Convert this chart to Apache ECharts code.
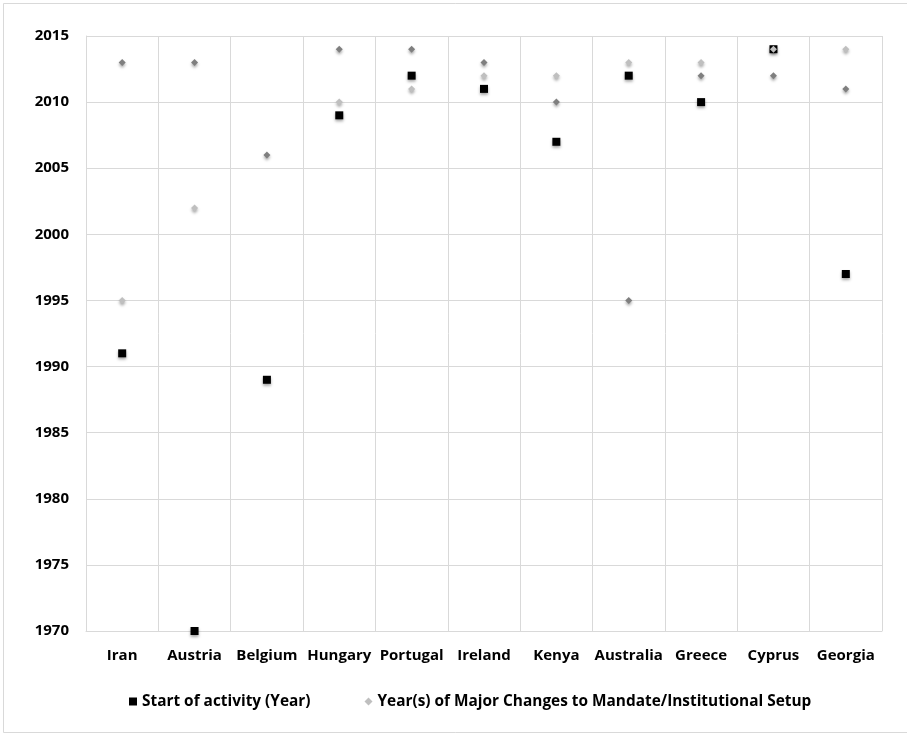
<!DOCTYPE html>
<html>
<head>
<meta charset="utf-8">
<script src="https://cdn.jsdelivr.net/npm/echarts@6/dist/echarts.min.js"></script>
<style>
  html, body { margin: 0; padding: 0; background: #fff; }
  #chart { width: 907px; height: 735px; }
</style>
</head>
<body>
<div id="chart"></div>
<script>
// Countries along the horizontal axis
const countries = ['Iran', 'Austria', 'Belgium', 'Hungary', 'Portugal', 'Ireland', 'Kenya', 'Australia', 'Greece', 'Cyprus', 'Georgia'];

// Year each institution started its activity
const startYear = [1991, 1970, 1989, 2009, 2012, 2011, 2007, 2012, 2010, 2014, 1997];

// Years of major changes to mandate / institutional setup (two per country at most)
const changeYearA = [1995, 2002, null, 2010, 2011, 2012, 2012, 2013, 2013, 2014, 2014];
const changeYearB = [2013, 2013, 2006, 2014, 2014, 2013, 2010, 1995, 2012, 2012, 2011];

// Value axis ticks
const yTicks = [1970, 1975, 1980, 1985, 1990, 1995, 2000, 2005, 2010, 2015];

const seriesStart = 'Start of activity (Year)';
const seriesChange = 'Year(s) of Major Changes to Mandate/Institutional Setup';

const font = '"Open Sans", "Noto Sans", sans-serif';
const shadow = { opacity: 1, shadowBlur: 3, shadowOffsetY: 2, shadowColor: 'rgba(0,0,0,0.35)' };

const chart = echarts.init(document.getElementById('chart'), null, { renderer: 'canvas' });

chart.setOption({
  backgroundColor: '#ffffff',
  animation: false,
  graphic: [{
    type: 'rect',
    shape: { x: 3.5, y: 3.5, width: 920, height: 729 },
    style: { fill: 'none', stroke: '#d9d9d9', lineWidth: 1 },
    silent: true
  }],
  grid: { left: 86, right: 25, top: 36, bottom: 104, containLabel: false },
  legend: {
    data: [
      { name: seriesStart, icon: 'rect', itemStyle: { color: '#000', opacity: 1 } },
      { name: seriesChange, icon: 'diamond', itemStyle: { color: '#bfbfbf', opacity: 1 } }
    ],
    left: 124,
    top: 689,
    itemWidth: 8,
    itemHeight: 8,
    itemGap: 54,
    textStyle: { fontFamily: font, fontWeight: 'bold', fontSize: 15.4, color: '#000' }
  },
  xAxis: {
    type: 'category',
    data: countries,
    boundaryGap: true,
    axisLine: { show: true, lineStyle: { color: '#d9d9d9', width: 1 } },
    axisTick: { show: false },
    splitLine: { show: true, lineStyle: { color: '#d9d9d9', width: 1 } },
    axisLabel: { margin: 17, fontFamily: font, fontWeight: 'bold', fontSize: 15, color: '#000', interval: 0 }
  },
  yAxis: {
    type: 'value',
    min: yTicks[0],
    max: yTicks[yTicks.length - 1],
    interval: 5,
    axisLine: { show: true, lineStyle: { color: '#d9d9d9', width: 1 } },
    axisTick: { show: false },
    splitLine: { show: true, lineStyle: { color: '#d9d9d9', width: 1 } },
    axisLabel: {
      margin: 17, fontFamily: font, fontWeight: 'bold', fontSize: 15, color: '#000',
      formatter: v => String(v)
    }
  },
  series: [
    {
      name: seriesStart,
      type: 'scatter',
      symbol: 'rect',
      symbolSize: 8,
      z: 2,
      itemStyle: Object.assign({ color: '#000000' }, shadow),
      data: startYear
    },
    {
      name: 'changes-b',
      type: 'scatter',
      symbol: 'diamond',
      symbolSize: 7,
      z: 3,
      itemStyle: Object.assign({ color: '#7f7f7f' }, shadow),
      data: changeYearB
    },
    {
      name: seriesChange,
      type: 'scatter',
      symbol: 'diamond',
      symbolSize: 7,
      z: 4,
      itemStyle: Object.assign({ color: '#bfbfbf' }, shadow),
      data: changeYearA
    }
  ]
});
</script>
</body>
</html>
